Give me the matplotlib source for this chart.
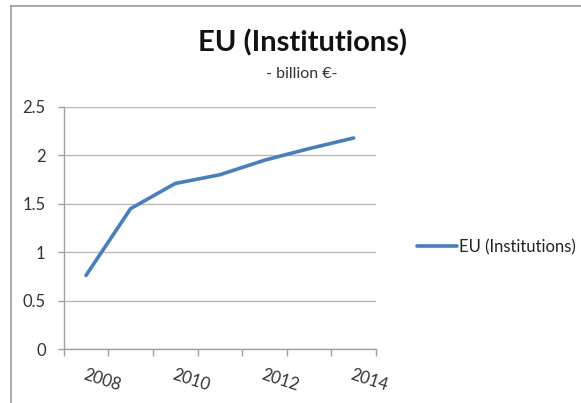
import numpy as np
import matplotlib
matplotlib.use('Agg')
import matplotlib.pyplot as plt
from matplotlib.lines import Line2D

# DATA
years = [2008, 2009, 2010, 2011, 2012, 2013, 2014]
values = [0.76, 1.45, 1.71, 1.80, 1.95, 2.07, 2.18]
label_years = [2008, 2010, 2012, 2014]
y_ticks = [0, 0.5, 1, 1.5, 2, 2.5]
y_labels = ['0', '0.5', '1', '1.5', '2', '2.5']

title = 'EU (Institutions)'
subtitle = '- billion €-'
series_name = 'EU (Institutions)'

plt.rcParams['font.family'] = ['Lato', 'DejaVu Sans']

W, H = 581, 403
fig = plt.figure(figsize=(W/100, H/100), dpi=100)
fig.patch.set_facecolor('white')

# frame around the chart area (left and top edges visible)
fig.add_artist(Line2D([11/W, 11/W], [0, 1 - 6/H], color='#9a9a9a', lw=1.2))
fig.add_artist(Line2D([11/W, 1], [1 - 6/H, 1 - 6/H], color='#9a9a9a', lw=1.2))

ax = fig.add_axes([63.7/W, 1 - 349/H, (376 - 63.7)/W, (349 - 107)/H])

x = np.arange(len(years))
ax.plot(x, values, color='#4A7EBB', lw=2.6, solid_capstyle='round',
        solid_joinstyle='round', label=series_name, zorder=3)

ax.set_xlim(-0.5, len(years) - 0.5)
ax.set_ylim(0, 2.5)

# GRID AND SPINES
ax.set_yticks(y_ticks)
ax.set_yticklabels(y_labels)
ax.yaxis.grid(True, color='#b8b8b8', lw=1.0)
ax.set_axisbelow(True)
for side in ['top', 'right']:
    ax.spines[side].set_visible(False)
for side in ['left', 'bottom']:
    ax.spines[side].set_color('#a0a0a0')
    ax.spines[side].set_linewidth(1.0)

ax.tick_params(axis='y', length=4, width=1.0, color='#a0a0a0',
               labelsize=12, labelcolor='#333333', pad=9)

# category boundaries as major ticks, year labels as minor ticks
ax.set_xticks(np.arange(len(years) + 1) - 0.5)
ax.set_xticklabels([])
ax.tick_params(axis='x', which='major', length=5, width=1.0, color='#a0a0a0')

lab_pos = [years.index(y) for y in label_years]
ax.set_xticks(lab_pos, minor=True)
ax.set_xticklabels([str(y) for y in label_years], minor=True)
ax.tick_params(axis='x', which='minor', length=0, pad=13,
               labelsize=12, labelcolor='#333333')
for t in ax.get_xticklabels(minor=True):
    t.set_rotation(-18)
    t.set_rotation_mode('anchor')
    t.set_ha('left')
    t.set_va('top')

# TITLE
fig.text(302/W, 1 - 43/H, title, ha='center', va='center',
         fontsize=21, fontweight='bold', color='#111111')
fig.text(302/W, 1 - 74/H, subtitle, ha='center', va='center',
         fontsize=11.5, color='#333333')

# LEGEND
fig.legend(loc='center left', bbox_to_anchor=(402/W, 1 - 247/H),
           frameon=False, fontsize=12, handlelength=2.4, handletextpad=0.1,
           labelcolor='#222222')

fig.savefig('out.png', dpi=100)
